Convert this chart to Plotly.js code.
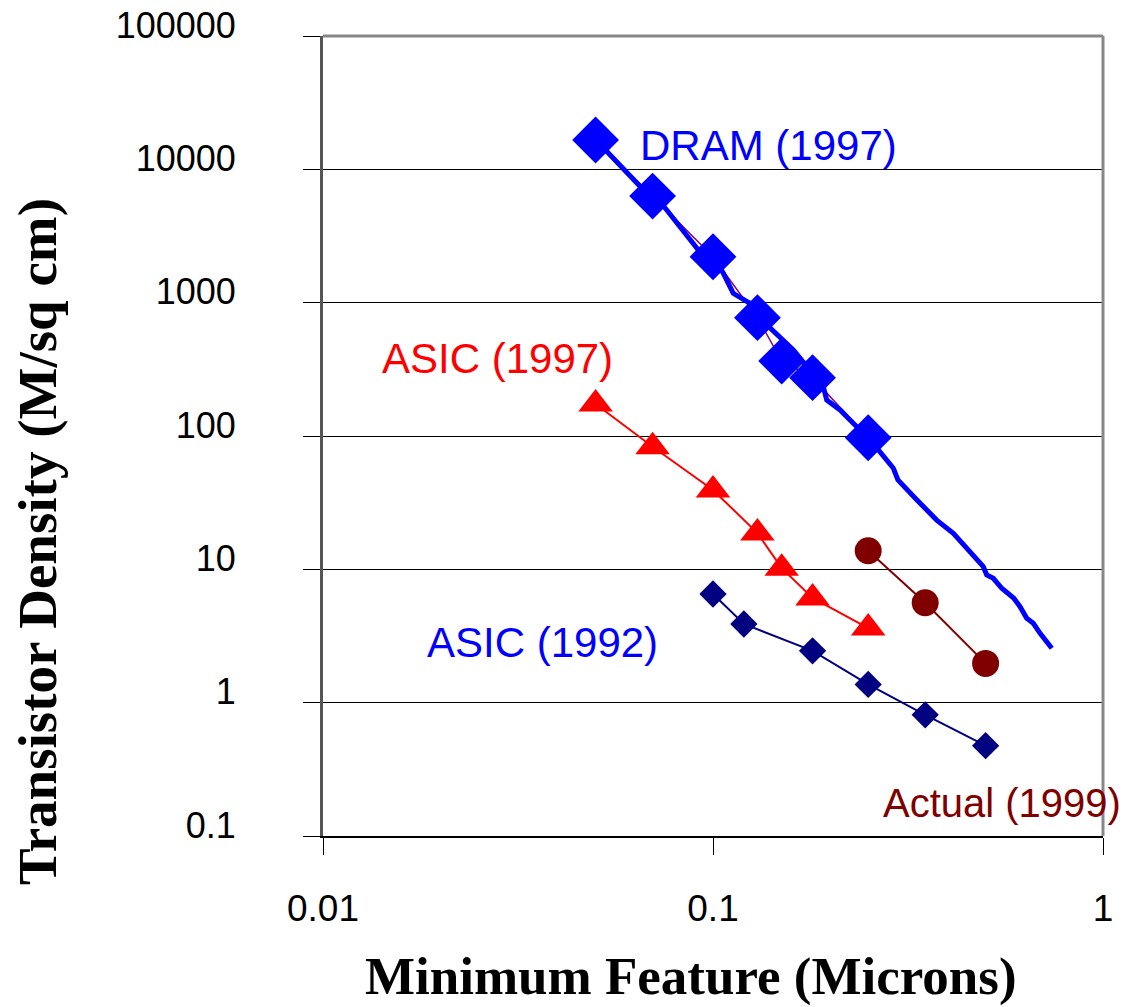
<!DOCTYPE html>
<html>
<head>
<meta charset="utf-8">
<script src="https://cdn.plot.ly/plotly-3.0.1.min.js"></script>
<style>html,body{margin:0;padding:0;background:#fff;}#chart{width:1131px;height:1007px;}</style>
</head>
<body>
<div id="chart"></div>
<script>
// Feature sizes (microns)
const featureNodes = [0.05, 0.07, 0.1, 0.13, 0.15, 0.18, 0.25];
// DRAM (1997) transistor density (M/sq cm)
const dram1997 = [16600, 6300, 2210, 772, 365, 274, 97];
// ASIC (1997)
const asic1997 = [174, 83, 39.4, 18.7, 10.2, 6.1, 3.63];
// Actual (1999)
const actualFeature = [0.25, 0.35, 0.5];
const actual1999 = [13.8, 5.62, 1.97];
// ASIC (1992)
const asic92Feature = [0.1, 0.12, 0.18, 0.25, 0.35, 0.5];
const asic1992 = [6.53, 3.89, 2.45, 1.37, 0.81, 0.476];
// DRAM trend curve
const trendFeature = [0.0501, 0.0657, 0.071, 0.0761, 0.0917, 0.1002, 0.1063, 0.1127, 0.1244, 0.1314,
  0.1607, 0.1918, 0.1957, 0.2117, 0.2289, 0.2512, 0.290, 0.298, 0.3296, 0.3746, 0.4133, 0.4933,
  0.5034, 0.5233, 0.55, 0.5900, 0.6128, 0.6300, 0.6375, 0.6627, 0.6800, 0.6897, 0.739];
const trendDensity = [16600, 7211, 6310, 4955, 2483, 2213, 1661, 1175, 989, 772,
  441.6, 234.4, 186.2, 156.7, 124.5, 96, 57.3, 46.8, 34.3, 23.4, 18.6, 10.47,
  9.07, 8.57, 7.21, 6.1, 5.25, 4.5, 4.29, 3.94, 3.45, 3.31, 2.56];
// Tick labels
const yTickVals = [0.1, 1, 10, 100, 1000, 10000, 100000];
const yTickText = ['0.1', '1', '10', '100', '1000', '10000', '100000'];
const xTickVals = [0.01, 0.1, 1];
const xTickText = ['0.01', '0.1', '1'];
// Titles
const xTitle = 'Minimum Feature (Microns)';
const yTitle = 'Transistor Density (M/sq cm)';

const traces = [
  {x: featureNodes, y: dram1997, mode: 'lines', line: {color: '#800080', width: 1.5}, hoverinfo: 'skip'},
  {x: trendFeature, y: trendDensity, mode: 'lines', line: {color: '#0000FF', width: 5}, hoverinfo: 'skip'},
  {x: featureNodes, y: dram1997, mode: 'markers', marker: {symbol: 'diamond', size: 36, color: '#0000FF'}},
  {x: featureNodes, y: asic1997, mode: 'lines+markers', line: {color: '#FF0000', width: 2},
   marker: {symbol: 'triangle-up', size: 30, color: '#FF0000'}},
  {x: actualFeature, y: actual1999, mode: 'lines+markers', line: {color: '#800000', width: 2},
   marker: {symbol: 'circle', size: 27, color: '#800000'}},
  {x: asic92Feature, y: asic1992, mode: 'lines+markers', line: {color: '#000080', width: 2},
   marker: {symbol: 'diamond', size: 21, color: '#000080'}}
];

const annFont = {family: 'Liberation Sans, Arial, sans-serif', size: 42};
const titleFont = {family: 'Liberation Serif, Times New Roman, serif', size: 55, color: '#000', weight: 'bold'};
const layout = {
  width: 1131, height: 1007,
  margin: {l: 323, r: 28, t: 36, b: 171},
  paper_bgcolor: '#fff', plot_bgcolor: '#fff',
  showlegend: false,
  font: {family: 'Liberation Sans, Arial, sans-serif', color: '#000'},
  xaxis: {
    type: 'log', range: [-2, 0],
    tickvals: xTickVals, ticktext: xTickText,
    ticks: 'outside', ticklen: 17, tickwidth: 1, tickcolor: '#000',
    tickfont: {size: 37, color: '#000'},
    ticklabelstandoff: 22,
    showgrid: false, zeroline: false,
    showline: true, linecolor: '#000', linewidth: 2
  },
  yaxis: {
    type: 'log', range: [-1, 5],
    tickvals: yTickVals, ticktext: yTickText,
    ticks: 'outside', ticklen: 17, tickwidth: 1, tickcolor: '#000',
    tickfont: {size: 36, color: '#000'},
    ticklabelstandoff: 60, ticklabelshift: -11,
    showgrid: true, gridcolor: '#000', gridwidth: 1,
    zeroline: false,
    showline: true, linecolor: '#555', linewidth: 3
  },
  shapes: [
    {type: 'line', xref: 'paper', yref: 'paper', x0: 0, x1: 1, y0: 1, y1: 1, line: {color: '#888', width: 3}},
    {type: 'line', xref: 'paper', yref: 'paper', x0: 1, x1: 1, y0: 0, y1: 1, line: {color: '#888', width: 3}}
  ],
  annotations: [
    {text: yTitle, xref: 'paper', yref: 'paper', x: -0.3667, y: 0.36875, xanchor: 'center', yanchor: 'middle',
     textangle: -90, showarrow: false, font: titleFont},
    {text: xTitle, xref: 'paper', yref: 'paper', x: 0.4718, y: -0.175, xanchor: 'center', yanchor: 'middle',
     showarrow: false, font: Object.assign({}, titleFont, {size: 53})},
    {text: 'DRAM (1997)', xref: 'paper', yref: 'paper', x: 0.4038, y: 0.8625, xanchor: 'left', yanchor: 'middle',
     showarrow: false, font: Object.assign({}, annFont, {color: '#0000FF'})},
    {text: 'ASIC (1997)', xref: 'paper', yref: 'paper', x: 0.0731, y: 0.5975, xanchor: 'left', yanchor: 'middle',
     showarrow: false, font: Object.assign({}, annFont, {color: '#FF0000'})},
    {text: 'ASIC (1992)', xref: 'paper', yref: 'paper', x: 0.1308, y: 0.2413, xanchor: 'left', yanchor: 'middle',
     showarrow: false, font: Object.assign({}, annFont, {color: '#0000FF'})},
    {text: 'Actual (1999)', xref: 'paper', yref: 'paper', x: 0.716, y: 0.04125, xanchor: 'left', yanchor: 'middle',
     showarrow: false, font: Object.assign({}, annFont, {size: 40, color: '#800000'})}
  ]
};

Plotly.newPlot('chart', traces, layout, {displayModeBar: false, staticPlot: true});
</script>
</body>
</html>
